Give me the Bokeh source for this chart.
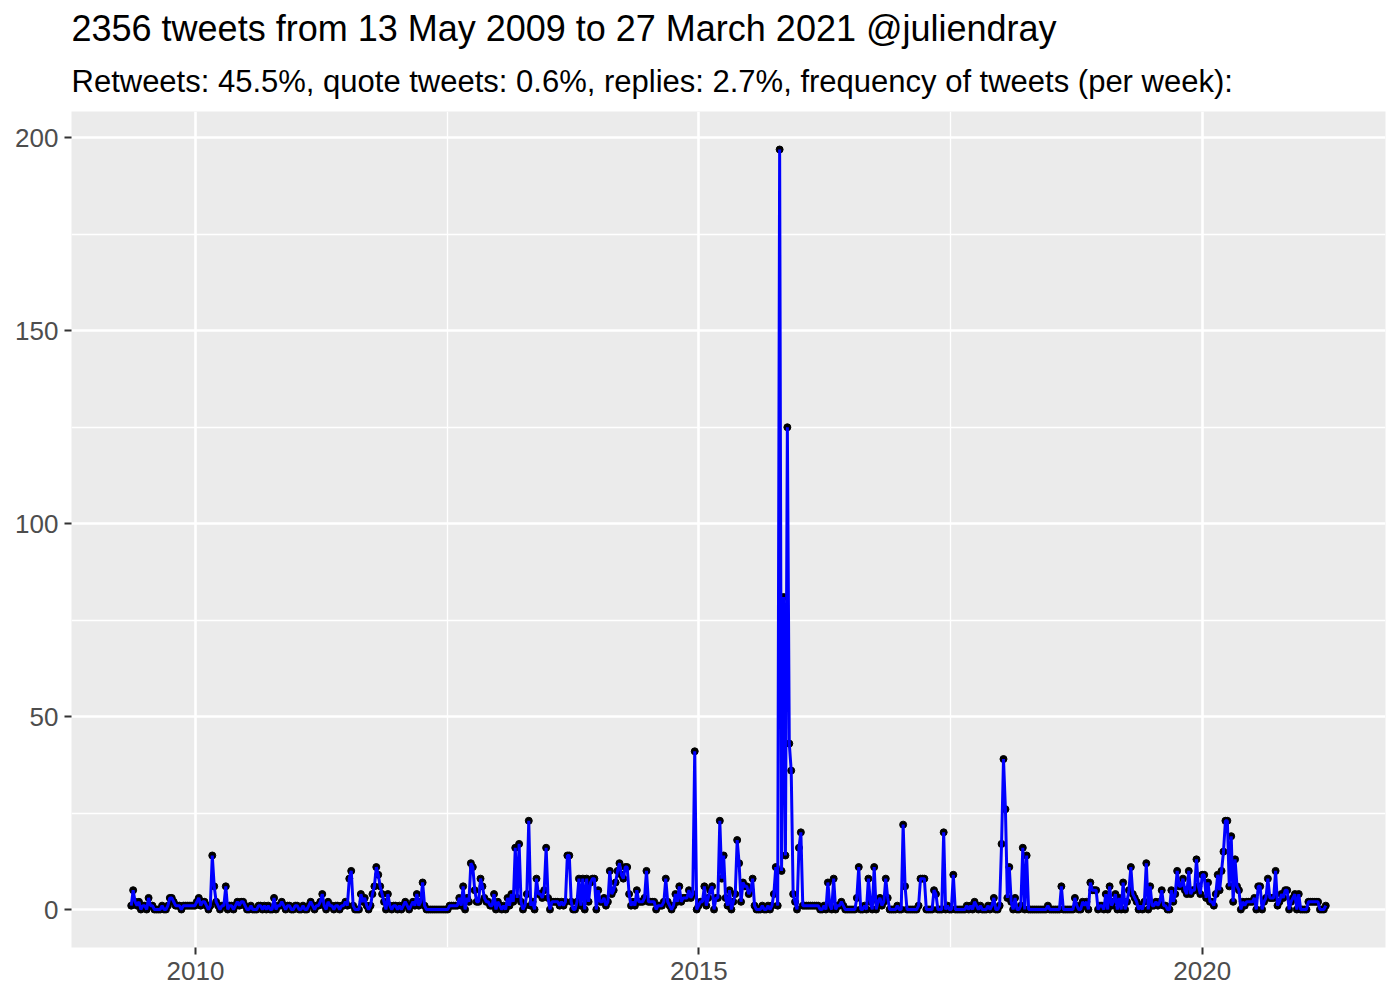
import numpy as np
import pandas as pd
from bokeh.plotting import figure
from bokeh.models import Range1d, FixedTicker, DatetimeTickFormatter, Title
from bokeh.embed import file_html
from bokeh.resources import INLINE

TITLE = "2356 tweets from 13 May 2009 to 27 March 2021 @juliendray"
SUBTITLE = "Retweets: 45.5%, quote tweets: 0.6%, replies: 2.7%, frequency of tweets (per week):"

first_week = "2009-05-13"

# weekly tweet counts (one value per week)
counts_part01 = [1, 5, 2, 1, 2, 0, 1, 1, 0, 3, 1, 1, 0, 0, 0, 0, 1, 0, 0, 1,
                 3, 3, 2, 1, 1, 1, 0, 1, 1, 1, 1, 1, 1, 1, 2, 3, 1, 2, 2, 1,
                 0, 1, 14, 6, 2, 1, 0, 1, 1, 6]
counts_part02 = [0, 1, 1, 0, 1, 2, 1, 2, 2, 1, 0, 0, 1, 0, 0, 0, 1, 1, 0, 1,
                 0, 1, 0, 0, 3, 0, 1, 1, 2, 1, 0, 1, 1, 0, 0, 1, 1, 0, 0, 1,
                 0, 0, 1, 2, 1, 0, 1, 1, 2, 4]
counts_part03 = [1, 0, 2, 1, 1, 0, 1, 1, 0, 1, 1, 2, 1, 8, 10, 1, 0, 0, 0, 4,
                 2, 3, 1, 0, 1, 4, 6, 11, 9, 6, 4, 2, 0, 4, 1, 0, 1, 1, 0, 1,
                 0, 1, 2, 1, 0, 1, 2, 1, 4, 1]
counts_part04 = [2, 7, 1, 0, 0, 0, 0, 0, 0, 0, 0, 0, 0, 0, 0, 1, 1, 1, 1, 1,
                 3, 1, 6, 0, 3, 2, 12, 11, 5, 2, 2, 8, 6, 3, 2, 2, 1, 1, 4, 0,
                 2, 1, 0, 1, 0, 3, 1, 4, 2, 16]
counts_part05 = [3, 17, 2, 0, 1, 4, 23, 1, 2, 0, 8, 4, 4, 3, 5, 16, 3, 0, 2, 2,
                 2, 2, 1, 2, 1, 2, 14, 14, 2, 0, 0, 2, 8, 1, 8, 0, 8, 2, 7, 8,
                 8, 0, 5, 2, 2, 3, 1, 2, 10, 4]
counts_part06 = [5, 7, 10, 12, 9, 8, 11, 11, 4, 1, 2, 1, 5, 2, 2, 2, 3, 10, 2, 2,
                 2, 2, 0, 1, 1, 1, 2, 8, 2, 1, 0, 1, 4, 2, 6, 2, 3, 3, 3, 5,
                 3, 4, 41, 0, 1, 2, 2, 6, 1, 3]
counts_part07 = [5, 6, 0, 3, 3, 23, 8, 14, 3, 1, 5, 0, 2, 4, 18, 12, 2, 7, 6, 6,
                 4, 5, 8, 1, 0, 0, 0, 1, 0, 0, 1, 0, 1, 4, 11, 1, 197, 10, 81, 14,
                 125, 43, 36, 4, 2, 0, 16, 20, 1, 1]
counts_part08 = [1, 1, 1, 1, 1, 1, 1, 0, 0, 1, 0, 7, 1, 0, 8, 0, 1, 1, 2, 1,
                 0, 0, 0, 0, 0, 0, 3, 11, 0, 0, 1, 0, 8, 2, 0, 11, 0, 2, 3, 1,
                 2, 8, 3, 0, 0, 0, 0, 1, 0, 0]
counts_part09 = [22, 6, 0, 0, 0, 0, 0, 0, 1, 8, 8, 8, 0, 0, 0, 0, 5, 4, 0, 0,
                 0, 20, 0, 1, 0, 0, 9, 0, 0, 0, 0, 0, 0, 1, 0, 1, 0, 2, 1, 0,
                 1, 0, 0, 0, 1, 0, 1, 3, 0, 0]
counts_part10 = [1, 17, 39, 26, 3, 11, 2, 0, 3, 0, 0, 1, 16, 0, 14, 0, 0, 0, 0, 0,
                 0, 0, 0, 0, 0, 1, 0, 0, 0, 0, 0, 0, 6, 0, 0, 0, 0, 0, 0, 3,
                 1, 0, 0, 2, 1, 2, 0, 7, 5, 5]
counts_part11 = [5, 0, 1, 1, 0, 4, 0, 6, 1, 2, 4, 0, 3, 0, 7, 0, 2, 5, 11, 4,
                 3, 2, 0, 1, 0, 2, 12, 0, 6, 1, 1, 2, 1, 2, 5, 1, 1, 0, 0, 5,
                 2, 4, 10, 6, 6, 8, 5, 4, 10, 4]
counts_part12 = [5, 5, 13, 6, 4, 9, 9, 3, 7, 2, 2, 1, 4, 9, 5, 10, 15, 23, 23, 6,
                 19, 2, 13, 6, 5, 0, 2, 1, 2, 2, 2, 2, 3, 0, 6, 6, 0, 2, 3, 8,
                 3, 3, 3, 10, 1, 2, 4, 3, 5, 5, 0, 2, 3, 4, 0, 4, 0, 0, 0, 0,
                 2, 2, 2, 2, 2, 2, 0, 0, 0, 1]

y_ticks = [0, 50, 100, 150, 200]
y_minor_ticks = [25, 75, 125, 175]
x_tick_dates = ["2010-01-01", "2015-01-01", "2020-01-01"]
x_minor_dates = ["2012-07-02", "2017-07-02"]

counts = (counts_part01 + counts_part02 + counts_part03 + counts_part04 +
          counts_part05 + counts_part06 + counts_part07 + counts_part08 +
          counts_part09 + counts_part10 + counts_part11 + counts_part12)
counts = np.array(counts, dtype=float)
dates = pd.Timestamp(first_week) + pd.to_timedelta(7 * np.arange(len(counts)), unit="D")

# ggplot-like 5% expansion
span_x = dates[-1] - dates[0]
x0 = dates[0] - 0.05 * span_x
x1 = dates[-1] + 0.05 * span_x
span_y = counts.max() - counts.min()
y0 = counts.min() - 0.05 * span_y
y1 = counts.max() + 0.05 * span_y

def ms(d):
    return pd.Timestamp(d).value // 10**6

FONT = "Liberation Sans"

p = figure(width=1392, height=992, x_axis_type="datetime", title=None,
           output_backend="svg", toolbar_location=None,
           x_range=Range1d(x0, x1), y_range=Range1d(y0, y1),
           min_border_left=71, min_border_right=7, min_border_bottom=45,
           min_border_top=0)
p.background_fill_color = "#EBEBEB"
p.border_fill_color = "white"
p.outline_line_color = None

p.add_layout(Title(text=SUBTITLE, text_font_size="31px", text_font=FONT,
                   text_font_style="normal", text_color="black", align="left",
                   standoff=26), "above")
p.add_layout(Title(text=TITLE, text_font_size="36px", text_font=FONT,
                   text_font_style="normal", text_color="black", align="left",
                   standoff=0), "above")
p.add_layout(Title(text=" ", text_font_size="3px", text_font=FONT,
                   standoff=0), "above")

xt = FixedTicker(ticks=[ms(d) for d in x_tick_dates],
                 minor_ticks=[ms(d) for d in x_minor_dates])
yt = FixedTicker(ticks=y_ticks, minor_ticks=y_minor_ticks)
p.xaxis.ticker = xt
p.yaxis.ticker = yt
p.xgrid.ticker = xt
p.ygrid.ticker = yt
p.xaxis.formatter = DatetimeTickFormatter(years="%Y", months="%Y", days="%Y",
                                          hours="%Y", minutes="%Y")

for g in (p.xgrid, p.ygrid):
    g.grid_line_color = "white"
    g.grid_line_width = 2.6
    g.minor_grid_line_color = "white"
    g.minor_grid_line_width = 1.3

for ax in (p.xaxis, p.yaxis):
    ax.axis_line_color = None
    ax.major_tick_line_color = "#333333"
    ax.major_tick_line_width = 2
    ax.major_tick_in = 0
    ax.major_tick_out = 7
    ax.minor_tick_line_color = None
    ax.major_label_text_font = FONT
    ax.major_label_text_font_size = "26px"
    ax.major_label_text_color = "#4D4D4D"
p.yaxis.major_label_standoff = 6
p.xaxis.major_label_standoff = 7

p.scatter(dates, counts, size=7, color="black")
p.line(dates, counts, line_color="blue", line_width=3)

open("out.html", "w").write(file_html(p, INLINE))
